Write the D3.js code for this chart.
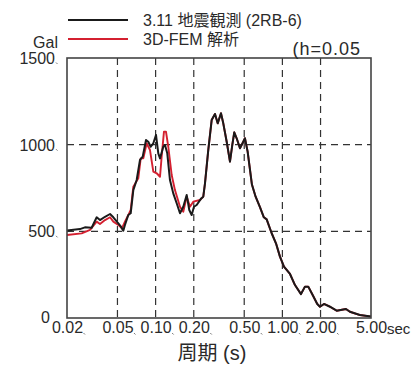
<!DOCTYPE html>
<html><head><meta charset="utf-8">
<script src="https://cdn.jsdelivr.net/npm/d3@7/dist/d3.min.js"></script>
<style>
body{margin:0;background:#fff;}
text{font-family:Arial,"Liberation Sans","Noto Sans CJK JP",sans-serif;fill:#2a2a2a;}
</style></head><body>
<svg id="c" width="419" height="367"></svg>
<script>
const xTicks = [0.02, 0.05, 0.10, 0.20, 0.50, 1.00, 2.00, 5.00];
const yTicks = [0, 500, 1000, 1500];
const seriesNames = ["3.11 地震観測 (2RB-6)", "3D-FEM 解析"];

const obsPeriod = [0.020,0.0253,0.0277,0.0313,0.0343,0.0364,0.0399,0.0437,0.0464,0.0508,0.0533,0.0556,0.0573,0.0609,0.0636,0.0667,0.0709,0.0753,0.0791,0.0840,0.0875,0.0915,0.0959,0.1007,0.105,0.1083,0.115,0.1186,0.1236,0.1298,0.1378,0.1466,0.1557,0.1653,0.1758,0.1843,0.1925,0.2007,0.2108,0.229,0.2377,0.2452,0.2602,0.2768,0.294,0.3088,0.3278,0.3418,0.3636,0.386,0.4024,0.4172,0.4358,0.4628,0.4914,0.5066,0.532,0.575,0.615,0.6654,0.714,0.7516,0.823,0.890,0.957,1.029,1.148,1.257,1.401,1.507,1.600,1.733,1.884,1.979,2.128,2.372,2.68,3.172,3.41,4.09,5.0];
const obsValue = [505,513,523,521,581,565,584,600,581,546,527,504,537,594,604,738,796,912,931,1027,1017,988,1008,1056,950,921,988,998,950,796,719,662,604,642,710,623,594,642,652,690,700,777,969,1142,1177,1123,1181,1123,1017,902,998,1071,1037,979,1017,1037,960,770,700,640,581,569,489,431,354,296,254,190,138,181,181,133,81,65,81,65,42,52,36,17,8];

const femPeriod = [0.020,0.0261,0.0304,0.0343,0.0364,0.0399,0.0437,0.0464,0.0508,0.0542,0.0573,0.0609,0.0636,0.0667,0.0730,0.0763,0.0800,0.0850,0.0903,0.0959,0.102,0.1083,0.1116,0.1164,0.1207,0.1259,0.1339,0.1421,0.1557,0.1653,0.1758,0.1867,0.1982,0.2238,0.2377,0.2452,0.2602,0.2768,0.294,0.3088,0.3278,0.3418,0.3636,0.386,0.4024,0.4172,0.4358,0.4628,0.4914,0.5066,0.532,0.575,0.615,0.6654,0.714,0.7516,0.823,0.890,0.957,1.029,1.148,1.257,1.401,1.507,1.600,1.733,1.884,1.979,2.128,2.372,2.68,3.172,3.41,4.09,5.0];
const femValue = [479,488,508,556,542,565,581,556,537,517,556,594,623,758,806,921,921,1008,969,844,835,815,931,1075,1075,988,825,738,642,613,700,642,671,681,700,777,969,1142,1177,1123,1181,1123,1017,902,998,1071,1037,979,1017,1037,960,770,700,640,581,569,489,431,354,296,254,190,138,181,181,133,81,65,81,65,42,52,36,17,8];

const svg = d3.select("#c");
const L = 67, R = 371, T = 58, B = 318;
const x = d3.scaleLog().domain([0.02, 5]).range([L, R]);
const y = d3.scaleLinear().domain([0, 1500]).range([B, T]);

// grid
const grid = svg.append("g");
grid.selectAll("line.v").data(xTicks.slice(1, -1)).join("line")
  .attr("x1", d => x(d)).attr("x2", d => x(d)).attr("y1", T).attr("y2", B)
  .attr("stroke", "#333").attr("stroke-width", 1.2).attr("stroke-dasharray", "7,5");
grid.selectAll("line.h").data(yTicks.slice(1, -1)).join("line")
  .attr("x1", L).attr("x2", R).attr("y1", d => y(d)).attr("y2", d => y(d))
  .attr("stroke", "#333").attr("stroke-width", 1.2).attr("stroke-dasharray", "7,5");

// lines
const line = d3.line().x(d => x(d[0])).y(d => y(d[1]));
svg.append("path").datum(d3.zip(femPeriod, femValue)).attr("d", line)
  .attr("fill", "none").attr("stroke", "#d42030").attr("stroke-width", 1.9).attr("stroke-linejoin", "round");
svg.append("path").datum(d3.zip(obsPeriod, obsValue)).attr("d", line)
  .attr("fill", "none").attr("stroke", "#1a1a1a").attr("stroke-width", 2).attr("stroke-linejoin", "round");

// frame
svg.append("rect").attr("x", L).attr("y", T).attr("width", R - L).attr("height", B - T)
  .attr("fill", "none").attr("stroke", "#444").attr("stroke-width", 1.6);

// x axis
const xa = svg.append("g").attr("transform", `translate(0,${B})`)
  .call(d3.axisBottom(x).tickValues(xTicks).tickFormat(d3.format(".2f")).tickSize(0).tickPadding(4));
xa.select(".domain").remove();
xa.selectAll("text").attr("font-size", 16).attr("fill", "#2a2a2a");
xa.selectAll(".tick").append("path").attr("d", "M16,15 l1.5,1.5").attr("stroke", "#777").attr("stroke-width", 1);

// y axis
const ya = svg.append("g").attr("transform", `translate(${L},0)`)
  .call(d3.axisLeft(y).tickValues(yTicks).tickFormat(d3.format("d")).tickSize(0).tickPadding(12));
ya.select(".domain").remove();
ya.selectAll("text").attr("font-size", 16).attr("fill", "#2a2a2a").attr("dy", "0.35em");
ya.selectAll(".tick").filter(d => d === 0).select("text").attr("x", -17).attr("dy", "0.3em");
ya.selectAll(".tick").filter(d => d > 0).append("path").attr("d", "M-11,4 l1.5,1.5").attr("stroke", "#777").attr("stroke-width", 1);

// labels
svg.append("text").attr("x", 387).attr("y", 334).attr("font-size", 15).text("sec");
svg.append("text").attr("x", 58).attr("y", 48).attr("text-anchor", "end").attr("font-size", 16).text("Gal");
svg.append("text").attr("x", 212).attr("y", 360).attr("text-anchor", "middle").attr("font-size", 20).text("周期 (s)");
svg.append("text").attr("x", 361).attr("y", 55).attr("text-anchor", "end").attr("font-size", 18).attr("letter-spacing", 1).text("(h=0.05");

// legend
const leg = svg.append("g");
const legColors = ["#1a1a1a", "#d42030"];
const legY = [20, 39];
seriesNames.forEach((n, i) => {
  leg.append("line").attr("x1", 68).attr("x2", 128).attr("y1", legY[i]).attr("y2", legY[i])
    .attr("stroke", legColors[i]).attr("stroke-width", 2);
  leg.append("text").attr("x", 143).attr("y", legY[i] + 6).attr("font-size", 16).text(n);
});
</script></body></html>
